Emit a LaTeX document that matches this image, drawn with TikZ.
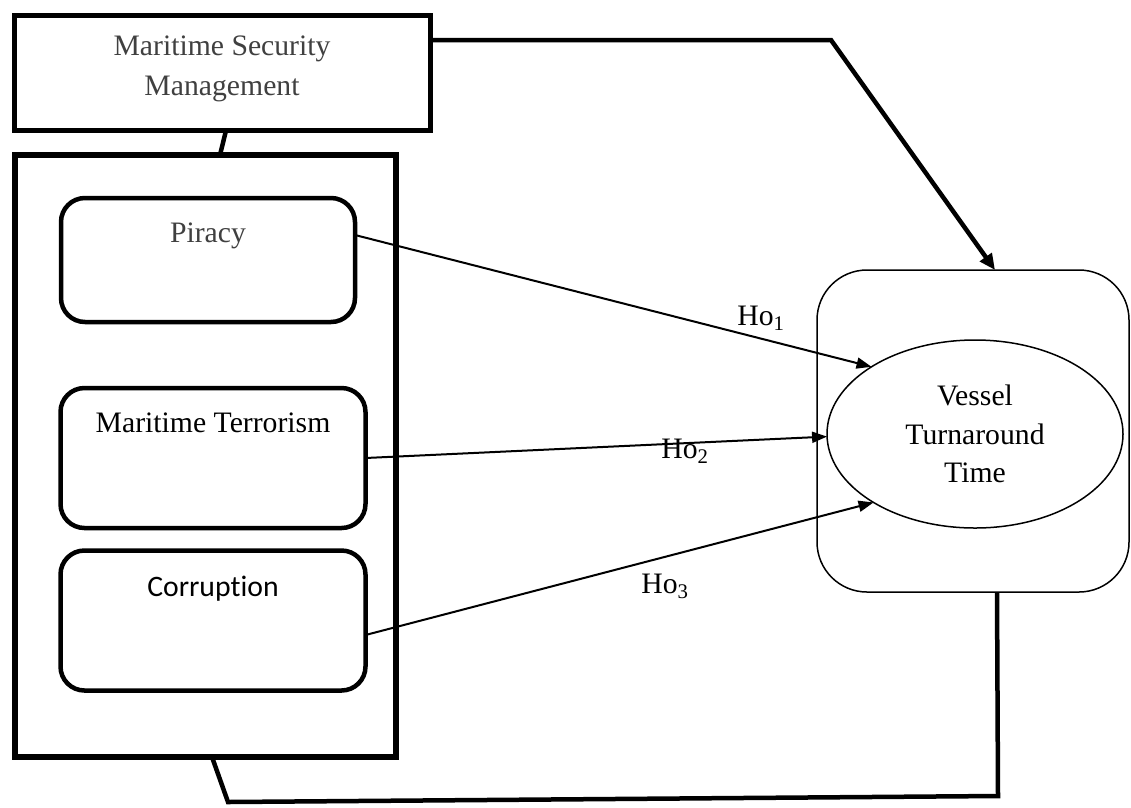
\documentclass[tikz,border=0pt]{standalone}
\usepackage{fontspec}
\setmainfont{Liberation Serif}
\newfontfamily\calibrilike[Ligatures={NoCommon}]{Carlito}
\usetikzlibrary{arrows.meta,shapes.geometric}
\definecolor{labelgrey}{HTML}{404040}
\begin{document}
\begin{tikzpicture}[x=1pt,y=-1pt,
  every node/.style={inner sep=0pt, outer sep=0pt},
  txt/.style={font=\fontsize{29.7}{40}\selectfont, align=center},
  heavybox/.style={draw, rectangle, line width=#1},
  riskbox/.style={draw, rectangle, rounded corners=24pt, line width=4.5pt},
  flow/.style={line width=2pt, -{Triangle[length=15pt,width=11pt]}},
  link/.style={line width=4.5pt, line join=miter},
]
\useasboundingbox (0,0) rectangle (1131,807);

% construct boxes
\node[heavybox=5pt, minimum width=416pt, minimum height=115pt] (msm) at (222,73) {};
\node[txt, text=labelgrey] at (222,68.5) {Maritime Security\\Management};

\node[heavybox=6pt, minimum width=381pt, minimum height=602pt] (outer) at (205,456) {};

\node[riskbox, minimum width=294pt, minimum height=124pt] (pir) at (208,260) {};
\node[txt, text=labelgrey, anchor=base] at (208,242) {Piracy};

\node[riskbox, minimum width=305pt, minimum height=140pt] (mt) at (213,458) {};
\node[txt, anchor=base] at (213,432) {Maritime Terrorism};

\node[riskbox, minimum width=305pt, minimum height=140pt] (corr) at (213,620.5) {};
\node[txt, anchor=base, font=\calibrilike\fontsize{29.7}{36}\selectfont] at (213,596) {Corrup\kern0pt tion};

% dependent variable
\node[draw, rectangle, rounded corners=50pt, line width=1.5pt,
      minimum width=312pt, minimum height=322pt] (frame) at (973,431) {};
\node[draw, ellipse, line width=1.5pt, minimum width=296pt, minimum height=188pt,
      txt, font=\fontsize{29.7}{38.5}\selectfont] (vtt) at (975,434) {Vessel\\Turnaround\\Time};

% links between the construct and the outcome
\draw[link] ([xshift=4pt]msm.south) -- ([xshift=15pt]outer.north);

\coordinate (bend) at (831,40);
\draw[link, -{Triangle[length=16pt,width=14pt]}]
  ([yshift=33pt]msm.east) -- (bend) -- ([xshift=22pt]frame.north);

\coordinate (low1) at (228,802);
\coordinate (low2) at (998,796);
\draw[link] ([xshift=7pt]outer.south) -- (low1) -- (low2) -- ([xshift=24pt]frame.south);

% hypothesised effects
\draw[flow] ([yshift=25pt]pir.east) -- (vtt.147);
\draw[flow] (mt.east) -- (vtt.181);
\draw[flow] ([yshift=-14.5pt]corr.east) -- (vtt.214);

\node[txt] (h1) at (761,318) {Ho\textsubscript{1}};
\node[txt] (h2) at (685,451) {Ho\textsubscript{2}};
\node[txt] (h3) at (665,586) {Ho\textsubscript{3}};
\end{tikzpicture}
\end{document}
